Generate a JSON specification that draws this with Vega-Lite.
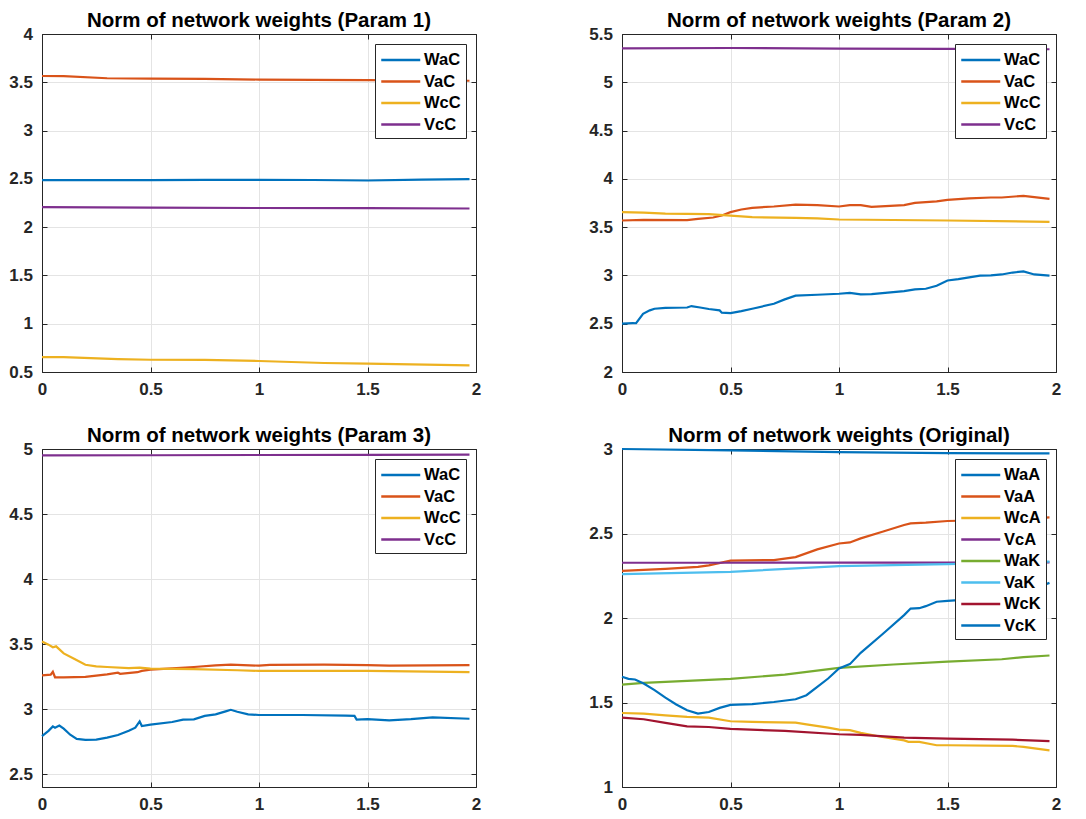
{
  "$schema": "https://vega.github.io/schema/vega-lite/v6.json",
  "background": "white",
  "padding": {"left": 8, "top": 10, "right": 10, "bottom": 2},
  "datasets": {
    "p1": [
      {"t":0,"s":"WaC","v":2.486},{"t":0.25,"s":"WaC","v":2.487},{"t":0.5,"s":"WaC","v":2.486},{"t":0.75,"s":"WaC","v":2.49},{"t":1,"s":"WaC","v":2.49},{"t":1.25,"s":"WaC","v":2.488},{"t":1.5,"s":"WaC","v":2.483},{"t":1.75,"s":"WaC","v":2.492},{"t":1.97,"s":"WaC","v":2.497},
      {"t":0,"s":"VaC","v":3.565},{"t":0.1,"s":"VaC","v":3.563},{"t":0.3,"s":"VaC","v":3.542},{"t":0.5,"s":"VaC","v":3.537},{"t":0.75,"s":"VaC","v":3.535},{"t":1,"s":"VaC","v":3.528},{"t":1.5,"s":"VaC","v":3.523},{"t":1.97,"s":"VaC","v":3.516},
      {"t":0,"s":"WcC","v":0.655},{"t":0.1,"s":"WcC","v":0.655},{"t":0.35,"s":"WcC","v":0.634},{"t":0.5,"s":"WcC","v":0.627},{"t":0.75,"s":"WcC","v":0.625},{"t":1,"s":"WcC","v":0.614},{"t":1.3,"s":"WcC","v":0.593},{"t":1.5,"s":"WcC","v":0.586},{"t":1.97,"s":"WcC","v":0.569},
      {"t":0,"s":"VcC","v":2.207},{"t":0.5,"s":"VcC","v":2.203},{"t":1,"s":"VcC","v":2.198},{"t":1.5,"s":"VcC","v":2.197},{"t":1.97,"s":"VcC","v":2.193}
    ],
    "p2": [
      {"t":0,"s":"WaC","v":2.5},{"t":0.05,"s":"WaC","v":2.507},{"t":0.065,"s":"WaC","v":2.505},{"t":0.097,"s":"WaC","v":2.603},{"t":0.128,"s":"WaC","v":2.638},{"t":0.15,"s":"WaC","v":2.655},{"t":0.2,"s":"WaC","v":2.665},{"t":0.3,"s":"WaC","v":2.668},{"t":0.32,"s":"WaC","v":2.683},{"t":0.36,"s":"WaC","v":2.668},{"t":0.4,"s":"WaC","v":2.652},{"t":0.45,"s":"WaC","v":2.638},{"t":0.46,"s":"WaC","v":2.614},{"t":0.5,"s":"WaC","v":2.61},{"t":0.55,"s":"WaC","v":2.631},{"t":0.6,"s":"WaC","v":2.655},{"t":0.7,"s":"WaC","v":2.707},{"t":0.75,"s":"WaC","v":2.752},{"t":0.8,"s":"WaC","v":2.79},{"t":0.9,"s":"WaC","v":2.8},{"t":1,"s":"WaC","v":2.81},{"t":1.05,"s":"WaC","v":2.82},{"t":1.1,"s":"WaC","v":2.803},{"t":1.15,"s":"WaC","v":2.807},{"t":1.2,"s":"WaC","v":2.817},{"t":1.3,"s":"WaC","v":2.838},{"t":1.35,"s":"WaC","v":2.855},{"t":1.4,"s":"WaC","v":2.862},{"t":1.45,"s":"WaC","v":2.893},{"t":1.5,"s":"WaC","v":2.948},{"t":1.55,"s":"WaC","v":2.962},{"t":1.6,"s":"WaC","v":2.979},{"t":1.65,"s":"WaC","v":2.997},{"t":1.7,"s":"WaC","v":3.0},{"t":1.75,"s":"WaC","v":3.01},{"t":1.8,"s":"WaC","v":3.03},{"t":1.85,"s":"WaC","v":3.041},{"t":1.9,"s":"WaC","v":3.01},{"t":1.97,"s":"WaC","v":2.997},
      {"t":0,"s":"VaC","v":3.569},{"t":0.1,"s":"VaC","v":3.575},{"t":0.3,"s":"VaC","v":3.572},{"t":0.35,"s":"VaC","v":3.586},{"t":0.42,"s":"VaC","v":3.6},{"t":0.46,"s":"VaC","v":3.62},{"t":0.5,"s":"VaC","v":3.655},{"t":0.55,"s":"VaC","v":3.683},{"t":0.6,"s":"VaC","v":3.7},{"t":0.7,"s":"VaC","v":3.714},{"t":0.8,"s":"VaC","v":3.734},{"t":0.9,"s":"VaC","v":3.728},{"t":1,"s":"VaC","v":3.714},{"t":1.05,"s":"VaC","v":3.728},{"t":1.1,"s":"VaC","v":3.728},{"t":1.15,"s":"VaC","v":3.71},{"t":1.3,"s":"VaC","v":3.728},{"t":1.35,"s":"VaC","v":3.752},{"t":1.45,"s":"VaC","v":3.766},{"t":1.5,"s":"VaC","v":3.783},{"t":1.6,"s":"VaC","v":3.797},{"t":1.7,"s":"VaC","v":3.807},{"t":1.75,"s":"VaC","v":3.807},{"t":1.85,"s":"VaC","v":3.824},{"t":1.9,"s":"VaC","v":3.81},{"t":1.97,"s":"VaC","v":3.793},
      {"t":0,"s":"WcC","v":3.655},{"t":0.1,"s":"WcC","v":3.65},{"t":0.2,"s":"WcC","v":3.64},{"t":0.4,"s":"WcC","v":3.635},{"t":0.5,"s":"WcC","v":3.62},{"t":0.6,"s":"WcC","v":3.603},{"t":0.8,"s":"WcC","v":3.595},{"t":0.9,"s":"WcC","v":3.59},{"t":1,"s":"WcC","v":3.579},{"t":1.5,"s":"WcC","v":3.569},{"t":1.97,"s":"WcC","v":3.555},
      {"t":0,"s":"VcC","v":5.352},{"t":0.5,"s":"VcC","v":5.355},{"t":1,"s":"VcC","v":5.348},{"t":1.5,"s":"VcC","v":5.345},{"t":1.97,"s":"VcC","v":5.342}
    ],
    "p3": [
      {"t":0,"s":"WaC","v":2.792},{"t":0.03,"s":"WaC","v":2.832},{"t":0.05,"s":"WaC","v":2.866},{"t":0.06,"s":"WaC","v":2.856},{"t":0.08,"s":"WaC","v":2.873},{"t":0.1,"s":"WaC","v":2.849},{"t":0.13,"s":"WaC","v":2.802},{"t":0.16,"s":"WaC","v":2.77},{"t":0.2,"s":"WaC","v":2.763},{"t":0.25,"s":"WaC","v":2.765},{"t":0.3,"s":"WaC","v":2.78},{"t":0.35,"s":"WaC","v":2.8},{"t":0.4,"s":"WaC","v":2.832},{"t":0.43,"s":"WaC","v":2.856},{"t":0.45,"s":"WaC","v":2.905},{"t":0.46,"s":"WaC","v":2.869},{"t":0.5,"s":"WaC","v":2.88},{"t":0.6,"s":"WaC","v":2.9},{"t":0.65,"s":"WaC","v":2.918},{"t":0.7,"s":"WaC","v":2.92},{"t":0.75,"s":"WaC","v":2.947},{"t":0.8,"s":"WaC","v":2.959},{"t":0.85,"s":"WaC","v":2.984},{"t":0.87,"s":"WaC","v":2.994},{"t":0.9,"s":"WaC","v":2.979},{"t":0.95,"s":"WaC","v":2.959},{"t":1,"s":"WaC","v":2.954},{"t":1.2,"s":"WaC","v":2.954},{"t":1.4,"s":"WaC","v":2.949},{"t":1.44,"s":"WaC","v":2.947},{"t":1.45,"s":"WaC","v":2.918},{"t":1.5,"s":"WaC","v":2.922},{"t":1.6,"s":"WaC","v":2.913},{"t":1.7,"s":"WaC","v":2.922},{"t":1.8,"s":"WaC","v":2.935},{"t":1.97,"s":"WaC","v":2.925},
      {"t":0,"s":"VaC","v":3.259},{"t":0.04,"s":"VaC","v":3.264},{"t":0.05,"s":"VaC","v":3.286},{"t":0.06,"s":"VaC","v":3.244},{"t":0.1,"s":"VaC","v":3.244},{"t":0.2,"s":"VaC","v":3.247},{"t":0.3,"s":"VaC","v":3.266},{"t":0.35,"s":"VaC","v":3.279},{"t":0.36,"s":"VaC","v":3.271},{"t":0.44,"s":"VaC","v":3.283},{"t":0.46,"s":"VaC","v":3.293},{"t":0.5,"s":"VaC","v":3.303},{"t":0.6,"s":"VaC","v":3.313},{"t":0.7,"s":"VaC","v":3.323},{"t":0.8,"s":"VaC","v":3.335},{"t":0.87,"s":"VaC","v":3.342},{"t":1,"s":"VaC","v":3.333},{"t":1.05,"s":"VaC","v":3.34},{"t":1.3,"s":"VaC","v":3.342},{"t":1.5,"s":"VaC","v":3.337},{"t":1.6,"s":"VaC","v":3.333},{"t":1.97,"s":"VaC","v":3.337},
      {"t":0,"s":"WcC","v":3.519},{"t":0.03,"s":"WcC","v":3.495},{"t":0.05,"s":"WcC","v":3.475},{"t":0.065,"s":"WcC","v":3.482},{"t":0.1,"s":"WcC","v":3.428},{"t":0.15,"s":"WcC","v":3.384},{"t":0.2,"s":"WcC","v":3.34},{"t":0.25,"s":"WcC","v":3.328},{"t":0.3,"s":"WcC","v":3.323},{"t":0.4,"s":"WcC","v":3.315},{"t":0.45,"s":"WcC","v":3.318},{"t":0.5,"s":"WcC","v":3.31},{"t":0.7,"s":"WcC","v":3.306},{"t":0.9,"s":"WcC","v":3.298},{"t":1,"s":"WcC","v":3.293},{"t":1.5,"s":"WcC","v":3.293},{"t":1.97,"s":"WcC","v":3.283},
      {"t":0,"s":"VcC","v":4.951},{"t":0.5,"s":"VcC","v":4.952},{"t":1,"s":"VcC","v":4.954},{"t":1.5,"s":"VcC","v":4.955},{"t":1.97,"s":"VcC","v":4.956}
    ],
    "p4": [
      {"t":0,"s":"WaA","v":3.0},{"t":0.5,"s":"WaA","v":2.992},{"t":1,"s":"WaA","v":2.982},{"t":1.5,"s":"WaA","v":2.976},{"t":1.97,"s":"WaA","v":2.974},
      {"t":0,"s":"VaA","v":2.279},{"t":0.2,"s":"VaA","v":2.291},{"t":0.35,"s":"VaA","v":2.303},{"t":0.4,"s":"VaA","v":2.311},{"t":0.5,"s":"VaA","v":2.339},{"t":0.7,"s":"VaA","v":2.343},{"t":0.8,"s":"VaA","v":2.36},{"t":0.9,"s":"VaA","v":2.406},{"t":1,"s":"VaA","v":2.441},{"t":1.05,"s":"VaA","v":2.447},{"t":1.1,"s":"VaA","v":2.471},{"t":1.2,"s":"VaA","v":2.51},{"t":1.3,"s":"VaA","v":2.55},{"t":1.33,"s":"VaA","v":2.56},{"t":1.4,"s":"VaA","v":2.564},{"t":1.5,"s":"VaA","v":2.574},{"t":1.7,"s":"VaA","v":2.58},{"t":1.9,"s":"VaA","v":2.59},{"t":1.97,"s":"VaA","v":2.595},
      {"t":0,"s":"WcA","v":1.438},{"t":0.1,"s":"WcA","v":1.434},{"t":0.2,"s":"WcA","v":1.424},{"t":0.3,"s":"WcA","v":1.415},{"t":0.4,"s":"WcA","v":1.41},{"t":0.5,"s":"WcA","v":1.389},{"t":0.6,"s":"WcA","v":1.385},{"t":0.8,"s":"WcA","v":1.381},{"t":0.85,"s":"WcA","v":1.371},{"t":0.95,"s":"WcA","v":1.351},{"t":1,"s":"WcA","v":1.34},{"t":1.05,"s":"WcA","v":1.336},{"t":1.1,"s":"WcA","v":1.32},{"t":1.2,"s":"WcA","v":1.296},{"t":1.3,"s":"WcA","v":1.276},{"t":1.32,"s":"WcA","v":1.267},{"t":1.37,"s":"WcA","v":1.267},{"t":1.45,"s":"WcA","v":1.247},{"t":1.5,"s":"WcA","v":1.247},{"t":1.8,"s":"WcA","v":1.243},{"t":1.85,"s":"WcA","v":1.237},{"t":1.97,"s":"WcA","v":1.217},
      {"t":0,"s":"VcA","v":2.327},{"t":0.5,"s":"VcA","v":2.327},{"t":1,"s":"VcA","v":2.328},{"t":1.5,"s":"VcA","v":2.328},{"t":1.97,"s":"VcA","v":2.329},
      {"t":0,"s":"WaK","v":1.606},{"t":0.1,"s":"WaK","v":1.616},{"t":0.3,"s":"WaK","v":1.628},{"t":0.5,"s":"WaK","v":1.64},{"t":0.75,"s":"WaK","v":1.665},{"t":1,"s":"WaK","v":1.705},{"t":1.25,"s":"WaK","v":1.725},{"t":1.5,"s":"WaK","v":1.742},{"t":1.75,"s":"WaK","v":1.756},{"t":1.85,"s":"WaK","v":1.768},{"t":1.97,"s":"WaK","v":1.778},
      {"t":0,"s":"VaK","v":2.26},{"t":0.5,"s":"VaK","v":2.273},{"t":1,"s":"VaK","v":2.307},{"t":1.5,"s":"VaK","v":2.319},{"t":1.97,"s":"VaK","v":2.333},
      {"t":0,"s":"WcK","v":1.411},{"t":0.1,"s":"WcK","v":1.401},{"t":0.2,"s":"WcK","v":1.379},{"t":0.3,"s":"WcK","v":1.359},{"t":0.4,"s":"WcK","v":1.355},{"t":0.5,"s":"WcK","v":1.344},{"t":0.75,"s":"WcK","v":1.332},{"t":1,"s":"WcK","v":1.312},{"t":1.1,"s":"WcK","v":1.308},{"t":1.3,"s":"WcK","v":1.292},{"t":1.5,"s":"WcK","v":1.286},{"t":1.8,"s":"WcK","v":1.28},{"t":1.97,"s":"WcK","v":1.272},
      {"t":0,"s":"VcK","v":1.652},{"t":0.03,"s":"VcK","v":1.64},{"t":0.06,"s":"VcK","v":1.636},{"t":0.1,"s":"VcK","v":1.612},{"t":0.15,"s":"VcK","v":1.573},{"t":0.2,"s":"VcK","v":1.529},{"t":0.25,"s":"VcK","v":1.488},{"t":0.3,"s":"VcK","v":1.454},{"t":0.35,"s":"VcK","v":1.434},{"t":0.4,"s":"VcK","v":1.444},{"t":0.45,"s":"VcK","v":1.468},{"t":0.5,"s":"VcK","v":1.486},{"t":0.6,"s":"VcK","v":1.49},{"t":0.7,"s":"VcK","v":1.503},{"t":0.8,"s":"VcK","v":1.519},{"t":0.85,"s":"VcK","v":1.543},{"t":0.9,"s":"VcK","v":1.592},{"t":0.95,"s":"VcK","v":1.642},{"t":1,"s":"VcK","v":1.701},{"t":1.05,"s":"VcK","v":1.727},{"t":1.1,"s":"VcK","v":1.794},{"t":1.2,"s":"VcK","v":1.904},{"t":1.3,"s":"VcK","v":2.017},{"t":1.33,"s":"VcK","v":2.056},{"t":1.37,"s":"VcK","v":2.058},{"t":1.4,"s":"VcK","v":2.07},{"t":1.45,"s":"VcK","v":2.096},{"t":1.5,"s":"VcK","v":2.101},{"t":1.6,"s":"VcK","v":2.11},{"t":1.7,"s":"VcK","v":2.125},{"t":1.8,"s":"VcK","v":2.15},{"t":1.9,"s":"VcK","v":2.18},{"t":1.94,"s":"VcK","v":2.194},{"t":1.97,"s":"VcK","v":2.208}
    ]
  },
  "columns": 2,
  "spacing": {"row": 27, "column": 106},
  "concat": [
    {
      "title": "Norm of network weights (Param 1)",
      "width": 434, "height": 338,
      "data": {"name": "p1"},
      "layer": [
        {
          "mark": {"type": "line", "strokeWidth": 2.2},
          "encoding": {
            "x": {"field": "t", "type": "quantitative", "scale": {"domain": [0, 2]}, "axis": {"orient": "bottom", "values": [0, 0.5, 1, 1.5, 2]}},
            "y": {"field": "v", "type": "quantitative", "scale": {"domain": [0.5, 4]}, "axis": {"orient": "left", "values": [0.5, 1, 1.5, 2, 2.5, 3, 3.5, 4]}},
            "color": {"field": "s", "type": "nominal", "scale": {"domain": ["WaC", "VaC", "WcC", "VcC"], "range": ["#0072BD", "#D95319", "#EDB120", "#7E2F8E"]}}
          }
        },
        {
          "mark": {"type": "line", "strokeOpacity": 0},
          "encoding": {
            "x": {"field": "t", "type": "quantitative", "axis": {"orient": "top", "values": [0, 0.5, 1, 1.5, 2], "labels": false, "grid": false}},
            "y": {"field": "v", "type": "quantitative", "axis": {"orient": "right", "values": [0.5, 1, 1.5, 2, 2.5, 3, 3.5, 4], "labels": false, "grid": false}}
          }
        }
      ],
      "resolve": {"axis": {"x": "independent", "y": "independent"}}
    },
    {
      "title": "Norm of network weights (Param 2)",
      "width": 434, "height": 338,
      "data": {"name": "p2"},
      "layer": [
        {
          "mark": {"type": "line", "strokeWidth": 2.2},
          "encoding": {
            "x": {"field": "t", "type": "quantitative", "scale": {"domain": [0, 2]}, "axis": {"orient": "bottom", "values": [0, 0.5, 1, 1.5, 2]}},
            "y": {"field": "v", "type": "quantitative", "scale": {"domain": [2, 5.5]}, "axis": {"orient": "left", "values": [2, 2.5, 3, 3.5, 4, 4.5, 5, 5.5]}},
            "color": {"field": "s", "type": "nominal", "scale": {"domain": ["WaC", "VaC", "WcC", "VcC"], "range": ["#0072BD", "#D95319", "#EDB120", "#7E2F8E"]}}
          }
        },
        {
          "mark": {"type": "line", "strokeOpacity": 0},
          "encoding": {
            "x": {"field": "t", "type": "quantitative", "axis": {"orient": "top", "values": [0, 0.5, 1, 1.5, 2], "labels": false, "grid": false}},
            "y": {"field": "v", "type": "quantitative", "axis": {"orient": "right", "values": [2, 2.5, 3, 3.5, 4, 4.5, 5, 5.5], "labels": false, "grid": false}}
          }
        }
      ],
      "resolve": {"axis": {"x": "independent", "y": "independent"}}
    },
    {
      "title": "Norm of network weights (Param 3)",
      "width": 434, "height": 338,
      "data": {"name": "p3"},
      "layer": [
        {
          "mark": {"type": "line", "strokeWidth": 2.2},
          "encoding": {
            "x": {"field": "t", "type": "quantitative", "scale": {"domain": [0, 2]}, "axis": {"orient": "bottom", "values": [0, 0.5, 1, 1.5, 2]}},
            "y": {"field": "v", "type": "quantitative", "scale": {"domain": [2.5, 5]}, "axis": {"orient": "left", "values": [2.5, 3, 3.5, 4, 4.5, 5]}},
            "color": {"field": "s", "type": "nominal", "scale": {"domain": ["WaC", "VaC", "WcC", "VcC"], "range": ["#0072BD", "#D95319", "#EDB120", "#7E2F8E"]}}
          }
        },
        {
          "mark": {"type": "line", "strokeOpacity": 0},
          "encoding": {
            "x": {"field": "t", "type": "quantitative", "axis": {"orient": "top", "values": [0, 0.5, 1, 1.5, 2], "labels": false, "grid": false}},
            "y": {"field": "v", "type": "quantitative", "axis": {"orient": "right", "values": [2.5, 3, 3.5, 4, 4.5, 5], "labels": false, "grid": false}}
          }
        }
      ],
      "resolve": {"axis": {"x": "independent", "y": "independent"}}
    },
    {
      "title": "Norm of network weights (Original)",
      "width": 434, "height": 338,
      "data": {"name": "p4"},
      "layer": [
        {
          "mark": {"type": "line", "strokeWidth": 2.2},
          "encoding": {
            "x": {"field": "t", "type": "quantitative", "scale": {"domain": [0, 2]}, "axis": {"orient": "bottom", "values": [0, 0.5, 1, 1.5, 2]}},
            "y": {"field": "v", "type": "quantitative", "scale": {"domain": [1, 3]}, "axis": {"orient": "left", "values": [1, 1.5, 2, 2.5, 3]}},
            "color": {"field": "s", "type": "nominal", "scale": {"domain": ["WaA", "VaA", "WcA", "VcA", "WaK", "VaK", "WcK", "VcK"], "range": ["#0072BD", "#D95319", "#EDB120", "#7E2F8E", "#77AC30", "#4DBEEE", "#A2142F", "#0072BD"]}}
          }
        },
        {
          "mark": {"type": "line", "strokeOpacity": 0},
          "encoding": {
            "x": {"field": "t", "type": "quantitative", "axis": {"orient": "top", "values": [0, 0.5, 1, 1.5, 2], "labels": false, "grid": false}},
            "y": {"field": "v", "type": "quantitative", "axis": {"orient": "right", "values": [1, 1.5, 2, 2.5, 3], "labels": false, "grid": false}}
          }
        }
      ],
      "resolve": {"axis": {"x": "independent", "y": "independent"}}
    }
  ],
  "resolve": {"scale": {"color": "independent"}, "legend": {"color": "independent"}},
  "config": {
    "view": {"stroke": "#262626", "strokeWidth": 1},
    "title": {"font": "Liberation Sans", "fontSize": 20.5, "fontWeight": "bold", "color": "#000000", "anchor": "middle", "frame": "group", "offset": -6},
    "axis": {
      "title": null,
      "labelFont": "Liberation Sans", "labelFontSize": 17, "labelFontWeight": "bold", "labelColor": "#262626",
      "labelFlush": false, "labelOverlap": false, "format": "~g",
      "domainColor": "#262626", "tickColor": "#262626", "tickSize": -5, "labelPadding": 14.5,
      "gridColor": "#e4e4e4", "grid": true
    },
    "legend": {
      "orient": "top-right", "offset": 10, "padding": 5,
      "strokeColor": "#262626", "fillColor": "#ffffff", "cornerRadius": 0,
      "title": null,
      "symbolType": "M-1,0H3", "symbolSize": 380, "symbolStrokeWidth": 2.5,
      "labelFont": "Liberation Sans", "labelFontSize": 16.5, "labelFontWeight": "bold", "labelColor": "#000000",
      "labelOffset": 22, "rowPadding": 1.5
    }
  }
}
